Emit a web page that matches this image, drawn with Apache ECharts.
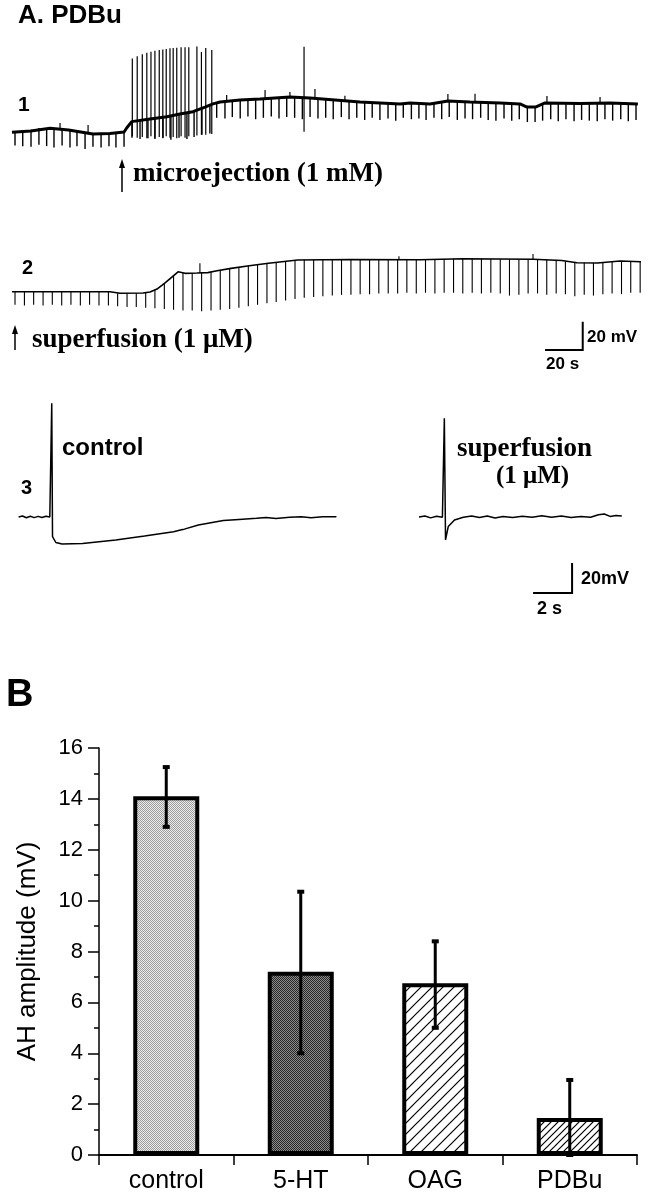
<!DOCTYPE html>
<html>
<head>
<meta charset="utf-8">
<title>PDBu</title>
<script src="https://cdn.jsdelivr.net/npm/echarts@6.0.0/dist/echarts.min.js"></script>
<style>
  html, body { margin: 0; padding: 0; background: #fff; }
  #chart { width: 648px; height: 1199px; }
</style>
</head>
<body>
<div id="chart"></div>
<script>
// ---- A1: microejection trace, time in s, membrane potential in mV
var trace1Base = [[0,-60.2],[10,-59.3],[20.2,-57.4],[30,-58.6],[43,-61.4],[52,-61],[59.5,-60],[61,-57],[63.6,-52.7],
  [73.3,-50.8],[82.3,-49.2],[89.2,-47.3],[96.1,-45.7],[102.5,-42.4],[106.7,-40.2],[110.5,-38.8],[121.1,-37.4],
  [131.7,-36.7],[147.6,-35.3],[158.3,-36.0],[171.5,-37.4],[184.8,-38.8],[206.1,-40.2],[211.4,-39.5],[222,-40.2],
  [231.5,-38.1],[243.2,-38.8],[259.2,-39.5],[269.8,-40.2],[273.5,-42.4],[278,-42.4],[283.1,-39.5],[301.6,-39.9],
  [317.6,-39.5],[332.4,-40.2]];
// hyperpolarizing pulses [t, from, to]
var trace1Pulses = [[1.6,-59.5,-69.5],[5.7,-59.3,-70],[10.1,-58.5,-70.5],[14.3,-57.2,-69],[18.4,-57.2,-70],[22.3,-57.9,-71],
  [26.6,-58.3,-69.5],[30.8,-59,-71],[34.5,-59.3,-70],[38.8,-60,-72],[43,-60.7,-70.5],[47.3,-60.7,-71],[51.5,-60.7,-70],
  [55.2,-60.5,-71],[59.5,-59.6,-70.5],[63.7,-52.2,-64],[68,-51.5,-65],[72.2,-51,-64.5],[75.9,-50.5,-65],[80.2,-49.7,-64],
  [84.4,-49,-65.5],[88.7,-47.5,-64],[92.9,-46.5,-65],[96.7,-45.5,-63.5],[100.9,-43.5,-62],[105.1,-41,-61],
  [108.7,-39.5,-50],[113.1,-38.5,-50.5],[117,-38,-49.5],[121.2,-37.4,-50.5],[125.3,-37.2,-49],[129.4,-36.9,-51],
  [133.5,-36.6,-50],[137.7,-36.3,-49],[141.8,-36,-50.5],[145.9,-35.5,-49.5],[150.1,-35.4,-50],[154.2,-35.7,-51],
  [158.3,-36,-49.5],[162.5,-36.5,-50.5],[166.6,-37,-50],[170.6,-37.4,-51],[174.9,-38,-49.5],[179,-38.4,-51],
  [183.1,-38.8,-50],[187.3,-39.2,-51.5],[191.3,-39.5,-50],[195.4,-39.8,-51.5],[199.7,-40,-50.5],[203.8,-40.2,-52],
  [207.8,-39.9,-50],[212.1,-39.5,-51],[216.1,-39.8,-50.5],[219.9,-40.2,-51.5],[224.1,-39.8,-50],[228.2,-38.5,-51],
  [232.2,-38.1,-49.5],[236.5,-38.5,-51.5],[240.6,-38.8,-50.5],[244.6,-38.8,-51],[248.9,-39,-50],[252.9,-39.3,-51.5],
  [257,-39.5,-52],[261.3,-39.7,-50.5],[265.4,-40,-52],[269.4,-40.2,-51],[273.7,-41.5,-53],[277.8,-42.4,-53],
  [281.8,-41,-52],[286.1,-39.5,-51],[290.1,-39.5,-52.5],[294.2,-39.7,-51],[298.5,-39.9,-52.5],[302.5,-39.9,-51.5],
  [306.6,-39.8,-52],[310.8,-39.6,-52.5],[314.9,-39.5,-51],[319,-39.5,-52],[323.3,-39.7,-51],[327.3,-40,-52.5],
  [331.4,-40.2,-51.5]];
// action potentials and small upward deflections [t, from, to]
var trace1Spikes = [[63.9,-63,-8.2],[66.5,-64,-6.5],[69.2,-63.5,-5.1],[71.6,-64.5,-4.1],[73.8,-63,-3.4],[75.9,-64,-2.6],
  [78.2,-63.5,-2.2],[80.1,-64.5,-1.7],[81.9,-63,-1.4],[83.9,-64,-0.9],[85.6,-63.5,-0.7],[87.5,-64.5,-0.5],
  [89.8,-63,-0.2],[91.9,-64,-0.2],[93.9,-63,-0.2],[98.2,-62.5,0.3],[100.6,-62,-3.5],[102.9,-62,-0.7],[106.1,-61.5,-2.1],
  [155.1,-59.8,0.2],
  [25.5,-58,-53.6],[40.4,-60,-55.1],[114,-38.5,-33.9],[134.4,-36.7,-30.4],[147.6,-35.3,-31.8],[160.9,-36.2,-29.7],
  [176.8,-37.8,-34.4],[231.5,-38.1,-33.2],[245.9,-38.9,-33],[284.1,-39.5,-34.6],[312.3,-39.6,-35.3]];

// ---- A2: superfusion trace
var trace2Base = [[0,-59.8],[52,-59.8],[57.4,-60.9],[69.6,-60.7],[73.3,-60],[77,-57.9],[81.3,-53.6],[88.2,-45.7],
  [91.9,-46.8],[98.2,-46.6],[104,-46.3],[108.9,-45],[116.3,-43.3],[126,-41.5],[136.2,-39.7],[151.7,-37.4],[180,-37],
  [216.7,-37.2],[239.5,-36.5],[276.7,-36.9],[292,-37.8],[300,-39.3],[311,-39.5],[322.9,-38.1],[334.4,-38.6]];
var trace2Pulses = [[1.6,-59.8,-69],[6.6,-59.8,-69.5],[11.5,-59.8,-69],[16.5,-59.8,-69.5],[21.4,-59.8,-69],[26.4,-59.8,-69.5],
  [31.3,-59.8,-69],[36.3,-59.8,-69.5],[41.2,-59.8,-69],[46.2,-59.8,-69.5],[51.2,-59.8,-69.5],[56.1,-60.8,-70],
  [61.1,-60.9,-70.5],[66,-60.8,-70.5],[71,-60.3,-71],[75.9,-58.5,-71.5],[80.9,-54,-72],[85.8,-48.5,-72.5],
  [90.8,-46.5,-73],[95.7,-46.7,-73],[100.7,-46.5,-73.5],[105.7,-46,-73],[110.6,-44.7,-72.5],[115.6,-43.5,-72],
  [120.5,-42.5,-71],[125.5,-41.6,-70],[130.4,-40.7,-69],[135.4,-39.8,-68],[140.3,-39,-67],[145.3,-38.3,-66],
  [150.3,-37.6,-65],[155.2,-37.3,-64],[160.2,-37.2,-63.5],[165.1,-37.1,-63],[170.1,-37.1,-62.5],[175,-37,-62],
  [180,-37,-62],[184.9,-37,-61.5],[189.9,-37,-61.5],[194.8,-37.1,-61],[199.8,-37.1,-61],[204.8,-37.1,-61],
  [209.7,-37.2,-60.5],[214.7,-37.2,-61],[219.6,-37.1,-60.5],[224.6,-36.9,-61],[229.5,-36.7,-60.5],[234.5,-36.6,-60.5],
  [239.4,-36.5,-61],[244.4,-36.5,-60.5],[249.3,-36.6,-61],[254.3,-36.7,-60.5],[259.3,-36.8,-61],[264.2,-36.8,-62.5],
  [269.2,-36.9,-62],[274.1,-36.9,-61],[279.1,-37,-61],[284,-37.2,-62],[289,-37.6,-61],[293.9,-38.2,-61.5],
  [298.9,-39,-63],[303.9,-39.4,-62],[308.8,-39.5,-62.5],[313.8,-39.2,-61.5],[318.7,-38.6,-61],[323.7,-38.1,-61.5],
  [328.6,-38.3,-60.5],[333.6,-38.6,-60.5]];
var trace2Spikes = [[99.8,-46.6,-39.7],[205.5,-37.1,-34.8],[276.7,-36.9,-33.2]];
// scale bar [t0, v0, dt, dv]
var scaleBarSlow = [[283.1,-100.9,20,20]];

// ---- A3: single spikes, time in s
var controlTrace = [[0,-60],[0.2,-59.3],[0.4,-60.5],[0.6,-59.5],[0.8,-60.4],[1.0,-59.6],[1.2,-60.3],[1.4,-59.5],
  [1.6,-60],[1.68,-60],[1.7,15.8],[1.74,-73.1],[1.91,-77],[2.23,-78],[3.28,-77.6],[4.98,-75.3],[6.46,-72.7],
  [7.95,-69.8],[8.35,-68.5],[8.4,-67.4],[8.5,-68.1],[9.22,-65.3],[10.5,-62.4],[11.3,-61.6],[12.2,-60.9],[12.7,-60.3],
  [13.2,-61],[13.9,-60.2],[14.5,-59.8],[15,-60.5],[15.6,-59.9],[16.3,-59.8]];
var superfusionTrace = [[0,-60],[0.3,-59.3],[0.6,-60.6],[0.9,-59.5],[1.2,-60.2],[1.29,-60],[1.3,5.8],[1.36,-75.3],
  [1.5,-66.4],[1.82,-62],[2.27,-60.2],[2.7,-59.3],[3.1,-60.3],[3.5,-59.4],[3.9,-60.6],[4.3,-59.6],[4.8,-60.4],
  [5.3,-59.5],[5.8,-60.2],[6.3,-59.2],[6.8,-60.1],[7.3,-59.4],[7.8,-60.3],[8.3,-59.6],[8.8,-60.2],[9.2,-58.5],
  [9.5,-58],[9.8,-59.6],[10.1,-59],[10.4,-59.4]];
var scaleBarFast = [[5.85,-110.7,2,20]];

// ---- B: AH amplitude
var barCategories = ['control', '5-HT', 'OAG', 'PDBu'];
var ahAmplitude = [14.1, 7.2, 6.75, 1.45];
var ahErrLow = [12.9, 4.0, 5.0, 0];
var ahErrHigh = [15.25, 10.35, 8.4, 2.95];

var SANS = '"Liberation Sans", Arial, Helvetica, sans-serif';
var SERIF = '"Liberation Serif", "Times New Roman", serif';

// fill textures for the bars
function stipple(light, dark) {
  var c = document.createElement('canvas');
  c.width = 2; c.height = 2;
  var g = c.getContext('2d');
  g.fillStyle = light; g.fillRect(0, 0, 2, 2);
  g.fillStyle = dark; g.fillRect(0, 0, 1, 1); g.fillRect(1, 1, 1, 1);
  return { image: c, repeat: 'repeat' };
}
function hatch(n, w) {
  var c = document.createElement('canvas');
  c.width = n; c.height = n;
  var g = c.getContext('2d');
  g.fillStyle = '#fff'; g.fillRect(0, 0, n, n);
  g.strokeStyle = '#000'; g.lineWidth = w;
  for (var k = 0; k <= 2; k++) {
    g.beginPath(); g.moveTo(-n, k * n + n); g.lineTo(k * n + n, -n); g.stroke();
  }
  return { image: c, repeat: 'repeat' };
}
var barFills = [stipple('#ececec', '#9c9c9c'), stipple('#8c8c8c', '#262626'), hatch(11, 1.2), hatch(7, 1.2)];

function vline(width) {
  return function (params, api) {
    var a = api.coord([api.value(0), api.value(1)]);
    var b = api.coord([api.value(0), api.value(2)]);
    return { type: 'line', shape: { x1: a[0], y1: a[1], x2: b[0], y2: b[1] },
      style: { stroke: '#000', lineWidth: width } };
  };
}
function scaleBar(params, api) {
  var t0 = api.value(0), v0 = api.value(1), dt = api.value(2), dv = api.value(3);
  var p0 = api.coord([t0, v0]), p1 = api.coord([t0 + dt, v0]), p2 = api.coord([t0 + dt, v0 + dv]);
  return { type: 'polyline', shape: { points: [p0, p1, p2] },
    style: { stroke: '#000', lineWidth: 2, fill: null } };
}
function errorBar(params, api) {
  var x = api.coord([api.value(0), 0])[0];
  var lo = api.coord([api.value(0), api.value(1)])[1];
  var hi = api.coord([api.value(0), api.value(2)])[1];
  return { type: 'group', children: [
    { type: 'line', shape: { x1: x, y1: lo, x2: x, y2: hi }, style: { stroke: '#000', lineWidth: 3 } },
    { type: 'rect', shape: { x: x - 3.5, y: hi - 2, width: 7, height: 4 }, style: { fill: '#000' } },
    { type: 'rect', shape: { x: x - 3.5, y: lo - 2, width: 7, height: 4 }, style: { fill: '#000' } }
  ] };
}

function hiddenAxis(idx, min, max) {
  return { type: 'value', gridIndex: idx, min: min, max: max, show: false };
}
function txt(x, y, s, font) {
  return { type: 'text', x: x, y: y, style: { text: s, font: font, fill: '#000', verticalAlign: 'middle' } };
}
function arrow(x, top, bottom) {
  return { type: 'group', children: [
    { type: 'line', shape: { x1: x, y1: top + 6, x2: x, y2: bottom }, style: { stroke: '#000', lineWidth: 1.5 } },
    { type: 'polygon', shape: { points: [[x, top], [x - 3, top + 9], [x + 3, top + 9]] }, style: { fill: '#000' } }
  ] };
}

var chart = echarts.init(document.getElementById('chart'));
var option = {
  animation: false,
  backgroundColor: '#fff',
  grid: [
    { left: 12, top: 39.9, width: 627.4, height: 120.4 },
    { left: 12, top: 207, width: 627.4, height: 155.9 },
    { left: 18.6, top: 397, width: 318.4, height: 202.5 },
    { left: 419, top: 397, width: 204.75, height: 202.5 },
    { left: 99, top: 748, width: 538, height: 407 }
  ],
  xAxis: [
    hiddenAxis(0, 0, 333.2),
    hiddenAxis(1, 0, 333.2),
    hiddenAxis(2, 0, 16.33),
    hiddenAxis(3, 0, 10.5),
    {
      type: 'category', gridIndex: 4, data: barCategories,
      axisLine: { lineStyle: { color: '#000', width: 2 } },
      axisTick: { show: true, length: 10, lineStyle: { color: '#000', width: 1.5 } },
      axisLabel: { color: '#000', fontSize: 25, fontFamily: SANS, margin: 14 }
    }
  ],
  yAxis: [
    hiddenAxis(0, -80, 5),
    hiddenAxis(1, -110, 0),
    hiddenAxis(2, -115, 20),
    hiddenAxis(3, -115, 20),
    {
      type: 'value', gridIndex: 4, min: 0, max: 16, interval: 2,
      name: 'AH amplitude (mV)', nameLocation: 'middle', nameGap: 58,
      nameTextStyle: { color: '#000', fontSize: 26, fontFamily: SANS },
      axisLine: { show: true, lineStyle: { color: '#000', width: 1.5 } },
      axisTick: { show: true, length: 11, lineStyle: { color: '#000', width: 1.5 } },
      minorTick: { show: true, splitNumber: 2, length: 5, lineStyle: { color: '#000', width: 1.5 } },
      splitLine: { show: false },
      axisLabel: { color: '#000', fontSize: 22, fontFamily: SANS, margin: 16 }
    }
  ],
  series: [
    { type: 'line', xAxisIndex: 0, yAxisIndex: 0, data: trace1Base, symbol: 'none',
      lineStyle: { color: '#000', width: 3 } },
    { type: 'custom', xAxisIndex: 0, yAxisIndex: 0, data: trace1Pulses, renderItem: vline(1.4) },
    { type: 'custom', xAxisIndex: 0, yAxisIndex: 0, data: trace1Spikes, renderItem: vline(1.2) },
    { type: 'line', xAxisIndex: 1, yAxisIndex: 1, data: trace2Base, symbol: 'none',
      lineStyle: { color: '#000', width: 1.6 } },
    { type: 'custom', xAxisIndex: 1, yAxisIndex: 1, data: trace2Pulses, renderItem: vline(1.1) },
    { type: 'custom', xAxisIndex: 1, yAxisIndex: 1, data: trace2Spikes, renderItem: vline(1.1) },
    { type: 'custom', xAxisIndex: 1, yAxisIndex: 1, data: scaleBarSlow, renderItem: scaleBar },
    { type: 'line', xAxisIndex: 2, yAxisIndex: 2, data: controlTrace, symbol: 'none',
      lineStyle: { color: '#000', width: 1.5 } },
    { type: 'line', xAxisIndex: 3, yAxisIndex: 3, data: superfusionTrace, symbol: 'none',
      lineStyle: { color: '#000', width: 1.5 } },
    { type: 'custom', xAxisIndex: 3, yAxisIndex: 3, data: scaleBarFast, renderItem: scaleBar },
    {
      type: 'bar', xAxisIndex: 4, yAxisIndex: 4, barWidth: 66,
      data: ahAmplitude.map(function (v, i) {
        return { value: v, itemStyle: { color: barFills[i] } };
      }),
      itemStyle: { borderColor: '#000', borderWidth: 4 }
    },
    {
      type: 'custom', xAxisIndex: 4, yAxisIndex: 4, z: 5, renderItem: errorBar,
      data: barCategories.map(function (c, i) { return [i, ahErrLow[i], ahErrHigh[i]]; })
    }
  ],
  graphic: [
    txt(18, 15.9, 'A. PDBu', 'bold 26px ' + SANS),
    txt(18, 105.6, '1', 'bold 21px ' + SANS),
    arrow(122, 159, 192),
    txt(133, 173.9, 'microejection (1 mM)', 'bold 27px ' + SERIF),
    txt(22, 268, '2', 'bold 20px ' + SANS),
    arrow(15, 325, 350),
    txt(32, 339.9, 'superfusion (1 \u03bcM)', 'bold 27px ' + SERIF),
    txt(587, 337, '20 mV', 'bold 17px ' + SANS),
    txt(546, 364.7, '20 s', 'bold 17px ' + SANS),
    txt(62, 448.6, 'control', 'bold 24px ' + SANS),
    txt(21, 488, '3', 'bold 20px ' + SANS),
    txt(457, 448.9, 'superfusion', 'bold 27px ' + SERIF),
    txt(496, 476.5, '(1 \u03bcM)', 'bold 25px ' + SERIF),
    txt(581, 578.7, '20mV', 'bold 18px ' + SANS),
    txt(537, 608.7, '2 s', 'bold 18px ' + SANS),
    txt(6, 695.7, 'B', 'bold 38px ' + SANS)
  ]
};
chart.setOption(option);
</script>
</body>
</html>
